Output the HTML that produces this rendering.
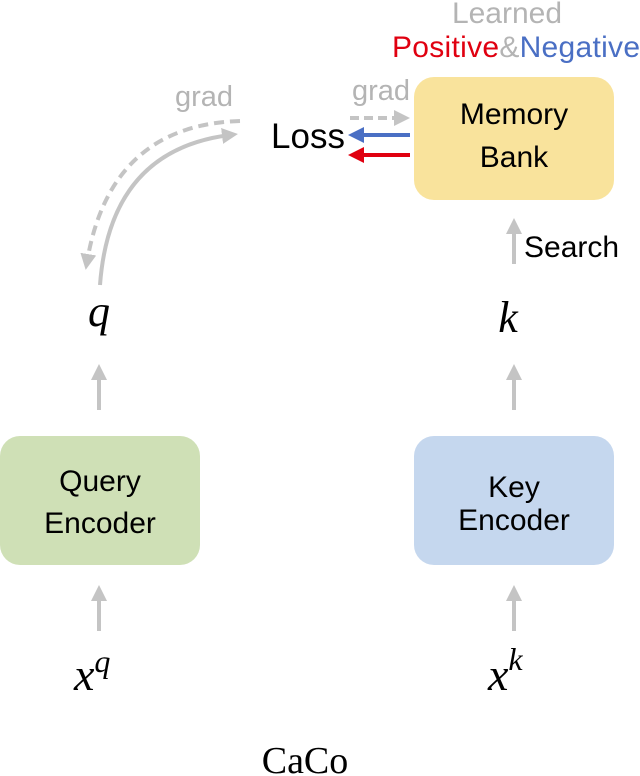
<!DOCTYPE html>
<html><head><style>
html,body{margin:0;padding:0;background:#fff;}
svg{display:block;}
.s{font-family:"Liberation Sans",sans-serif;}
.m{font-family:"Liberation Serif",serif;font-style:italic;}
</style></head><body>
<svg width="640" height="776" viewBox="0 0 640 776" xmlns="http://www.w3.org/2000/svg">
<defs>
<marker id="ag" markerWidth="4" markerHeight="4" refX="2" refY="2" orient="auto" markerUnits="strokeWidth"><path d="M0,0 L4,2 L0,4 z" fill="#c4c4c4"/></marker>
<marker id="ab" markerWidth="4" markerHeight="4" refX="2" refY="2" orient="auto" markerUnits="strokeWidth"><path d="M0,0 L4,2 L0,4 z" fill="#4a6fc4"/></marker>
<marker id="ar" markerWidth="4" markerHeight="4" refX="2" refY="2" orient="auto" markerUnits="strokeWidth"><path d="M0,0 L4,2 L0,4 z" fill="#e00010"/></marker>
</defs>
<text x="507" y="23" class="s" font-size="30" fill="#b4b4b4" text-anchor="middle">Learned</text>
<text x="392" y="57" class="s" font-size="30" textLength="248"><tspan fill="#e00010">Positive</tspan><tspan fill="#b4b4b4">&amp;</tspan><tspan fill="#4a6fc4">Negative</tspan></text>
<rect x="414" y="77" width="200" height="123" rx="20" fill="#f9e39c"/>
<text x="514" y="124" class="s" font-size="30" text-anchor="middle">Memory</text>
<text x="514" y="167" class="s" font-size="30" text-anchor="middle">Bank</text>
<text x="308" y="148" class="s" font-size="35" text-anchor="middle">Loss</text>
<text x="381" y="100" class="s" font-size="29" fill="#b4b4b4" text-anchor="middle">grad</text>
<text x="204" y="106" class="s" font-size="29" fill="#b4b4b4" text-anchor="middle">grad</text>
<line x1="350" y1="118" x2="402" y2="118" stroke="#c4c4c4" stroke-width="4" stroke-dasharray="9,5" marker-end="url(#ag)"/>
<line x1="410" y1="135" x2="356" y2="135" stroke="#4a6fc4" stroke-width="4" marker-end="url(#ab)"/>
<line x1="410" y1="155" x2="356" y2="155" stroke="#e00010" stroke-width="4" marker-end="url(#ar)"/>
<path d="M100,285 Q110,150 230,135" fill="none" stroke="#c4c4c4" stroke-width="4" marker-end="url(#ag)"/>
<path d="M240,121 Q110,125 87,262" fill="none" stroke="#c4c4c4" stroke-width="4" stroke-dasharray="10,6" marker-end="url(#ag)"/>
<line x1="514" y1="264" x2="514" y2="226" stroke="#c4c4c4" stroke-width="4" marker-end="url(#ag)"/>
<text x="524" y="257" class="s" font-size="30">Search</text>
<text x="99" y="326" class="m" font-size="44" text-anchor="middle">q</text>
<text x="508" y="332" class="m" font-size="44" text-anchor="middle">k</text>
<line x1="99" y1="410" x2="99" y2="372" stroke="#c4c4c4" stroke-width="4" marker-end="url(#ag)"/>
<line x1="514" y1="410" x2="514" y2="372" stroke="#c4c4c4" stroke-width="4" marker-end="url(#ag)"/>
<rect x="0" y="436" width="200" height="129" rx="20" fill="#cfe0b6"/>
<text x="100" y="491" class="s" font-size="30" text-anchor="middle">Query</text>
<text x="100" y="533" class="s" font-size="30" text-anchor="middle">Encoder</text>
<rect x="414" y="436" width="200" height="129" rx="20" fill="#c5d7ee"/>
<text x="514" y="497" class="s" font-size="30" text-anchor="middle">Key</text>
<text x="514" y="530" class="s" font-size="30" text-anchor="middle">Encoder</text>
<line x1="99" y1="631" x2="99" y2="593" stroke="#c4c4c4" stroke-width="4" marker-end="url(#ag)"/>
<line x1="514" y1="631" x2="514" y2="593" stroke="#c4c4c4" stroke-width="4" marker-end="url(#ag)"/>
<text x="74" y="690" class="m" font-size="46">x<tspan font-size="32" dy="-18">q</tspan></text>
<text x="488" y="690" class="m" font-size="46">x<tspan font-size="32" dy="-20">k</tspan></text>
<text x="305" y="773" font-family="Liberation Serif,serif" font-size="38" text-anchor="middle">CaCo</text>
</svg>
</body></html>
